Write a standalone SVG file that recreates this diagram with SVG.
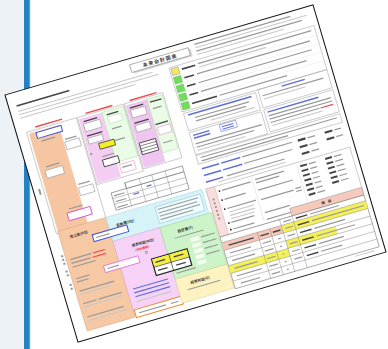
<svg xmlns="http://www.w3.org/2000/svg" width="388" height="349" viewBox="0 0 388 349">
<style>
.l{fill:#9a9a9a}.lt{fill:#c8c8c8}.lb{fill:#5e6edc}.lr{fill:#e65050}.dk{fill:#454545}
.bx{fill:#fff;stroke:#999;stroke-width:.6}
.fr{fill:none;stroke:#b0b0b0;stroke-width:.6}
.g{fill:none;stroke:#777;stroke-width:.4}
.t{font-family:"Noto Sans CJK JP","Noto Sans",sans-serif;fill:#333;font-weight:bold}
.ig{fill:#72dc5e;stroke:#55b844;stroke-width:.4}
</style>
<rect width="388" height="349" fill="#fff"/>
<rect width="24" height="349" fill="#edf2f7"/>
<rect x="24" width="6" height="349" fill="#2481c4"/>
<rect x="29" width="1.2" height="349" fill="#56a6dd"/>
<g id="paper" transform="matrix(0.9595,-0.2804,0.2829,0.9574,5,95)">
<rect width="321" height="258" fill="#fff" stroke="#111" stroke-width="1"/>

<g id="header">
<rect x="130" y="7.5" width="61" height="8" fill="#d4d4d4"/>
<rect x="128" y="6" width="61" height="8" fill="#fff" stroke="#888" stroke-width=".6"/>
<text class="t" x="158.5" y="12.2" font-size="5" text-anchor="middle" letter-spacing="1">未来会計図表</text>
<rect class="l" x="196" y="4" width="100" height="1.2"/>
<rect class="lt" x="196" y="7.5" width="116" height="1.1"/>
<rect class="l" x="196" y="11" width="110" height="1.2"/>
<rect class="lt" x="196" y="14.5" width="90" height="1.1"/>
<rect class="dk" x="8" y="13" width="55" height="1.5"/>
<rect class="lt" x="8" y="19" width="140" height="1.1"/>
<rect class="lt" x="8" y="22.5" width="145" height="1.1"/>
<rect class="lt" x="8" y="26" width="120" height="1.1"/>
</g>

<g id="groupA">
<rect class="fr" x="10" y="42" width="52" height="106"/>
<rect class="lr" x="20" y="38.5" width="28" height="1.5"/>
<rect x="12" y="44" width="31" height="103" fill="#f6c6a2"/>
<rect x="19" y="45" width="26" height="6" fill="#fff" stroke="#3d4fd6" stroke-width="1"/>
<rect class="l" x="22" y="54" width="14" height="1.2"/>
<rect class="l" x="19" y="80" width="14" height="1.2"/>
<rect class="bx" x="17" y="84" width="18" height="8"/>
<rect class="l" x="45" y="59" width="12" height="1.2"/>
<rect class="bx" x="44" y="62" width="15" height="8"/>
<rect class="l" x="45" y="106" width="12" height="1.2"/>
<rect class="bx" x="44" y="110" width="15" height="8"/>
<rect class="l" x="5" y="100" width="2" height="6"/>
<rect class="l" x="29" y="127" width="14" height="1.2"/>
<rect x="26" y="131" width="24" height="8" fill="#fff" stroke="#d857c8" stroke-width=".9"/>
</g>

<g id="groupB">
<rect class="fr" x="63" y="42" width="48" height="70"/>
<rect class="lr" x="72" y="39.5" width="28" height="1.5"/>
<rect x="64" y="44" width="24" height="67" fill="#f5cdf3"/>
<rect x="88" y="44" width="22" height="52" fill="#eafbe6" stroke="#a8e0a0" stroke-width=".5"/>
<rect class="dk" x="68" y="47" width="14" height="1.3"/>
<rect class="bx" x="67" y="50" width="17" height="8"/>
<rect class="dk" x="67" y="62" width="16" height="1.3"/>
<rect class="bx" x="67" y="65" width="15" height="6"/>
<rect x="76" y="73" width="16" height="6" fill="#f2f028" stroke="#444" stroke-width=".8"/>
<rect x="75" y="90" width="16" height="7" fill="#fff" stroke="#333" stroke-width=".8"/>
<rect class="l" x="76" y="86" width="12" height="1.2"/>
<rect class="dk" x="92" y="47" width="12" height="1.3"/>
<rect x="92" y="50" width="14" height="7" fill="#fff" stroke="#aedcaa" stroke-width=".5"/>
<rect class="l" x="93" y="62" width="10" height="1.3"/>
<rect class="l" x="93" y="74" width="10" height="1.3"/>
<rect class="l" x="65" y="80" width="2" height="2"/>
<rect x="90" y="99" width="15" height="9" fill="#fff" stroke="#e89ac8" stroke-width=".6"/>
<rect class="l" x="92" y="102" width="10" height="1.2"/>
</g>

<g id="groupC">
<rect class="fr" x="112" y="42" width="40" height="68"/>
<rect class="lr" x="118" y="39.5" width="28" height="1.5"/>
<rect x="113" y="44" width="22" height="65" fill="#efc6ef"/>
<rect x="135" y="44" width="16" height="56" fill="#eafbe6" stroke="#a8e0a0" stroke-width=".5"/>
<rect class="dk" x="116" y="47" width="14" height="1.3"/>
<rect class="bx" x="116" y="50" width="15" height="8"/>
<rect class="dk" x="116" y="63" width="15" height="1.3"/>
<rect class="bx" x="116" y="66" width="15" height="7"/>
<rect x="115" y="84" width="17" height="12" fill="#fff" stroke="#222" stroke-width=".7"/>
<path d="M115 87H132M115 90H132M115 93H132" stroke="#222" stroke-width=".5"/>
<rect class="dk" x="137" y="47" width="12" height="1.3"/>
<rect class="l" x="138" y="54" width="9" height="1.2"/>
<rect class="dk" x="136" y="70" width="13" height="1.3"/>
<rect x="137" y="74" width="13" height="8" fill="#fff" stroke="#e89ac8" stroke-width=".6"/>
<rect class="l" x="138" y="90" width="10" height="1.2"/>
</g>

<g id="smalltable">
<rect x="74" y="124" width="76" height="18" fill="#fff" stroke="#555" stroke-width=".5"/>
<rect x="90" y="118" width="60" height="6" fill="#fff" stroke="#555" stroke-width=".5"/>
<path class="g" d="M90 118V142M105 118V142M118 118V142M132 118V142M74 130H150M74 136H150"/>
<rect class="l" x="76" y="127" width="11" height="1.2"/>
<rect class="l" x="76" y="133" width="11" height="1.2"/>
<rect class="l" x="76" y="139" width="11" height="1.2"/>
<rect class="lb" x="95" y="131" width="6" height="1.2"/>
<rect class="lb" x="110" y="127" width="5" height="1.2"/>
</g>

<g id="sales">
<rect x="12" y="146" width="50" height="104" fill="#f6c8a4" stroke="#d9a27c" stroke-width=".5"/>
<text class="t" x="22" y="156" font-size="3.6">売上高(PQ)</text>
<rect class="l" x="8" y="170" width="2.2" height="2"/><rect class="l" x="8" y="174" width="2.2" height="2"/><rect class="l" x="8" y="178" width="2.2" height="2"/><rect class="l" x="8" y="186" width="2.2" height="2"/><rect class="l" x="8" y="190" width="2.2" height="2"/><rect class="l" x="8" y="200" width="2.2" height="2"/><rect class="l" x="8" y="204" width="2.2" height="2"/>
<rect class="l" x="16" y="176" width="22" height="1.2"/><rect class="lr" x="40" y="176" width="12" height="1.2"/>
<rect class="l" x="16" y="180" width="20" height="1.2"/><rect class="lr" x="38" y="180" width="14" height="1.2"/>
<rect class="l" x="16" y="184" width="24" height="1.2"/>
<rect class="l" x="16" y="196" width="14" height="1.2"/><rect class="l" x="16" y="199.5" width="12" height="1.2"/>
<rect class="l" x="16" y="209" width="36" height="1.2"/><rect class="lt" x="16" y="212.5" width="30" height="1.1"/>
<rect class="l" x="16" y="222" width="14" height="1.2"/><rect class="l" x="32" y="222" width="24" height="1.2"/>
<rect class="lt" x="16" y="225.5" width="40" height="1.1"/>
<rect class="l" x="16" y="236" width="38" height="1.2"/><rect class="lt" x="16" y="240" width="40" height="1.1"/>
</g>

<g id="variable">
<rect x="62" y="146" width="100" height="25" fill="#d6f3f7" stroke="#a6d6de" stroke-width=".5"/>
<text class="t" x="70" y="158" font-size="3.6">変動費(VQ)</text>
<rect x="112" y="150" width="47" height="17" fill="#ecfcff" stroke="#8ab" stroke-width=".4"/>
<rect class="l" x="114" y="152.5" width="42" height="1.1"/><rect class="l" x="114" y="156" width="40" height="1.1"/><rect class="l" x="114" y="159.5" width="42" height="1.1"/><rect class="l" x="114" y="163" width="34" height="1.1"/>
</g>

<g id="margin">
<rect x="62" y="171" width="49" height="72" fill="#f6d3f6" stroke="#d9a6d9" stroke-width=".5"/>
<text class="t" x="79" y="182" font-size="3.6">限界利益(MQ)</text>
<text class="t" x="81" y="187" font-size="3" style="fill:#e33">(付加価値)</text>
<circle cx="91" cy="191" r="1.2" fill="none" stroke="#444" stroke-width=".4"/>
<rect class="lb" x="68" y="222" width="36" height="1.2"/><rect class="lb" x="68" y="226" width="36" height="1.2"/><rect class="lb" x="68" y="230" width="36" height="1.2"/>
<rect class="lt" x="68" y="235" width="36" height="1.1"/>
<rect x="63" y="243" width="49" height="8" fill="#fff" stroke="#f08a30" stroke-width="1"/>
<rect class="l" x="67" y="246.5" width="28" height="1.2"/><rect class="l" x="100" y="246.5" width="8" height="1.2"/>
</g>

<g id="fixed">
<rect x="111" y="171" width="54" height="54" fill="#cdf3c8" stroke="#9fd49a" stroke-width=".5"/>
<text class="t" x="127" y="181" font-size="3.6">固定費(F)</text>
<rect class="l" x="122" y="185" width="30" height="1"/>
<rect x="137" y="190" width="9" height="4" fill="#f4fff2"/><rect x="137" y="196" width="9" height="4" fill="#f4fff2"/><rect x="137" y="202" width="9" height="4" fill="#f4fff2"/><rect x="137" y="208" width="9" height="4" fill="#f4fff2"/><rect x="137" y="214" width="9" height="4" fill="#f4fff2"/>
<rect class="l" x="148" y="191" width="14" height="1.1"/><rect class="l" x="148" y="197" width="14" height="1.1"/><rect class="l" x="148" y="203" width="14" height="1.1"/><rect class="l" x="148" y="209" width="14" height="1.1"/>
<rect class="l" x="114" y="219" width="20" height="1.1"/>
</g>

<g id="profit">
<rect x="111" y="225" width="54" height="25" fill="#fdf3c0" stroke="#e0d090" stroke-width=".5"/>
<text class="t" x="125" y="234" font-size="3.6">経常利益(G)</text>
<rect class="l" x="120" y="238" width="34" height="1.1"/>
</g>

<g id="boxes">
<rect x="44" y="159" width="36" height="7" fill="#fff" stroke="#3c4ed4" stroke-width="1"/>
<rect class="l" x="47" y="162" width="14" height="1.2"/>
<rect x="46" y="192" width="36" height="7" fill="#fff" stroke="#e070d0" stroke-width=".8"/>
<rect class="l" x="49" y="195" width="12" height="1.2"/>
<rect x="94" y="199" width="37" height="17" fill="#fff" stroke="#222" stroke-width="1.2"/>
<rect x="94.6" y="199.6" width="35.8" height="7.4" fill="#f3ef3c"/>
<path d="M94 207.5H131M112 199V216" stroke="#222" stroke-width=".6"/>
<rect class="dk" x="97" y="202.5" width="10" height="1.3"/><rect class="dk" x="116" y="202.5" width="10" height="1.3"/>
<rect class="dk" x="97" y="211" width="10" height="1.3"/><rect class="dk" x="116" y="211" width="10" height="1.3"/>
</g>

<g id="rightTop">
<rect class="fr" x="165" y="20" width="151" height="46"/>
<rect x="166.5" y="21.5" width="7.5" height="7" fill="#f2e66a" stroke="#998" stroke-width=".5"/>
<rect class="ig" x="166.5" y="30.5" width="7.5" height="7"/>
<rect class="ig" x="166.5" y="39.5" width="7.5" height="7"/>
<rect class="ig" x="166.5" y="48.5" width="7.5" height="7"/>
<rect class="ig" x="166.5" y="57.5" width="7.5" height="7"/>
<rect class="dk" x="177" y="24" width="14" height="1.6"/><rect class="l" x="194" y="23.5" width="118" height="1.2"/><rect class="lt" x="194" y="27" width="70" height="1.1"/>
<rect class="dk" x="177" y="33" width="10" height="1.6"/><rect class="l" x="190" y="33" width="118" height="1.2"/>
<rect class="dk" x="177" y="42" width="9" height="1.6"/><rect class="l" x="189" y="42" width="118" height="1.2"/>
<rect class="dk" x="177" y="51" width="9" height="1.6"/><rect class="l" x="189" y="51" width="110" height="1.2"/>
<rect class="dk" x="177" y="60" width="26" height="1.6"/><rect class="l" x="206" y="60" width="70" height="1.2"/>
<path d="M165 29.5H316M165 38.5H316M165 47.5H316M165 56.5H316" stroke="#e6e6e6" stroke-width=".4"/>
</g>

<g id="rightMid">
<rect class="fr" x="166" y="68" width="75" height="18"/>
<rect class="lb" x="170" y="70" width="66" height="1.4"/>
<rect class="l" x="176" y="74.5" width="56" height="1.2"/><rect class="l" x="176" y="78" width="52" height="1.2"/><rect class="lt" x="190" y="81.5" width="46" height="1.1"/>
<rect class="fr" x="244" y="66" width="72" height="19"/>
<rect class="lb" x="268" y="68.5" width="24" height="1.4"/>
<rect class="l" x="247" y="72.5" width="63" height="1.2"/><rect class="lt" x="247" y="76" width="43" height="1.1"/>
<rect class="fr" x="166" y="88" width="75" height="23"/>
<rect class="lb" x="169" y="91" width="17" height="1.4"/><rect class="lb" x="169" y="94" width="17" height="1.4"/>
<rect x="197" y="89" width="17" height="7" fill="none" stroke="#5464d8" stroke-width=".5"/>
<rect class="lb" x="199" y="91" width="12" height="1"/><rect class="lb" x="199" y="93.5" width="12" height="1"/>
<rect class="l" x="169" y="100" width="69" height="1.2"/><rect class="l" x="169" y="103.5" width="60" height="1.2"/><rect class="lt" x="169" y="107" width="50" height="1.1"/>
<rect class="fr" x="244" y="87" width="72" height="23"/>
<rect class="lb" x="247" y="89.5" width="53" height="1.4"/>
<rect class="l" x="247" y="93.5" width="65" height="1.2"/><rect class="l" x="247" y="97" width="65" height="1.2"/>
<rect class="l" x="247" y="100.5" width="51" height="1.2"/><rect class="lr" x="299" y="100.5" width="13" height="1.2"/>
<rect class="lt" x="247" y="104" width="53" height="1.1"/>
<rect class="fr" x="166" y="112" width="150" height="9"/>
<rect class="l" x="170" y="114.5" width="142" height="1.2"/><rect class="l" x="170" y="118" width="90" height="1.2"/>
</g>

<g id="rightRows">
<rect class="lb" x="168" y="125.5" width="18" height="1.5"/><rect class="lb" x="188" y="125.5" width="20" height="1.5"/><rect class="l" x="210" y="125.5" width="52" height="1.2"/>
<rect class="dk" x="268" y="125" width="8" height="2.2"/><rect class="l" x="278" y="125.5" width="8" height="1.3"/><rect class="dk" x="296" y="125" width="8" height="2.2"/><rect class="l" x="306" y="125.5" width="7" height="1.3"/>
<rect class="lb" x="168" y="132.5" width="18" height="1.5"/><rect class="lb" x="188" y="132.5" width="20" height="1.5"/><rect class="l" x="210" y="132.5" width="50" height="1.2"/>
<rect class="dk" x="268" y="132" width="8" height="2.2"/><rect class="l" x="278" y="132.5" width="8" height="1.3"/><rect class="dk" x="296" y="132" width="8" height="2.2"/><rect class="l" x="306" y="132.5" width="7" height="1.3"/>
<rect class="lb" x="168" y="139.5" width="18" height="1.5"/><rect class="l" x="190" y="139.5" width="60" height="1.2"/>
<rect class="dk" x="268" y="139" width="8" height="2.2"/><rect class="l" x="278" y="139.5" width="8" height="1.3"/>
<rect class="lt" x="180" y="143" width="70" height="1.1"/>
</g>

<g id="rightBullets">
<rect class="fr" x="166" y="147" width="150" height="50"/>
<rect x="166" y="147" width="9" height="50" fill="#f9dede" stroke="#d8aaaa" stroke-width=".5"/>
<rect class="l" x="169.5" y="158" width="2" height="2"/><rect class="l" x="169.5" y="162" width="2" height="2"/><rect class="l" x="169.5" y="166" width="2" height="2"/><rect class="l" x="169.5" y="170" width="2" height="2"/><rect class="l" x="169.5" y="174" width="2" height="2"/><rect class="l" x="169.5" y="178" width="2" height="2"/>
<g fill="#222"><circle cx="178.5" cy="152.6" r=".9"/><circle cx="178.5" cy="162" r=".9"/><circle cx="178.5" cy="171.5" r=".9"/><circle cx="178.5" cy="186" r=".9"/><circle cx="178.5" cy="193" r=".9"/></g>
<rect class="l" x="181" y="152" width="30" height="1.2"/><rect class="l" x="181" y="161.4" width="22" height="1.2"/><rect class="l" x="181" y="171" width="30" height="1.2"/>
<rect class="lt" x="182" y="175" width="26" height="1.1"/><rect class="lt" x="182" y="178.5" width="26" height="1.1"/><rect class="lt" x="182" y="182" width="24" height="1.1"/>
<rect class="l" x="181" y="185.4" width="24" height="1.2"/><rect class="l" x="181" y="192.4" width="22" height="1.2"/>
<path d="M213 150V194" stroke="#ccc" stroke-width=".4"/>
<rect class="l" x="216" y="151" width="30" height="1.2"/><rect class="l" x="216" y="154.5" width="24" height="1.2"/><rect class="l" x="216" y="162" width="36" height="1.2"/>
<rect class="l" x="216" y="172" width="34" height="1.2"/><rect class="l" x="252" y="171" width="6" height="1.2"/><rect class="l" x="252" y="174" width="6" height="1.2"/>
<rect class="l" x="216" y="185.5" width="26" height="1.2"/><rect class="l" x="216" y="192.5" width="26" height="1.2"/><rect class="lr" x="244" y="192.5" width="12" height="1.2"/>
<path d="M260 150V188" stroke="#ccc" stroke-width=".4"/>
<g class="dk"><rect x="263" y="150.5" width="7" height="2"/><rect x="263" y="155.5" width="7" height="2"/><rect x="263" y="160.5" width="7" height="2"/><rect x="263" y="165.5" width="7" height="2"/><rect x="263" y="170.5" width="7" height="2"/><rect x="263" y="175.5" width="7" height="2"/><rect x="263" y="180.5" width="7" height="2"/>
<rect x="289" y="150.5" width="7" height="2"/><rect x="289" y="155.5" width="7" height="2"/><rect x="289" y="160.5" width="7" height="2"/><rect x="289" y="165.5" width="7" height="2"/><rect x="289" y="170.5" width="7" height="2"/><rect x="289" y="175.5" width="7" height="2"/></g>
<g class="l"><rect x="272" y="151" width="7" height="1.2"/><rect x="272" y="156" width="7" height="1.2"/><rect x="272" y="161" width="7" height="1.2"/><rect x="272" y="166" width="7" height="1.2"/><rect x="272" y="171" width="7" height="1.2"/><rect x="272" y="176" width="7" height="1.2"/><rect x="272" y="181" width="8" height="1.2"/>
<rect x="298" y="151" width="8" height="1.2"/><rect x="298" y="156" width="8" height="1.2"/><rect x="298" y="161" width="8" height="1.2"/><rect x="298" y="166" width="8" height="1.2"/><rect x="298" y="171" width="8" height="1.2"/><rect x="298" y="176" width="8" height="1.2"/></g>
</g>

<g id="rightTable">
<rect x="241" y="189" width="75" height="8" fill="#f5c9bb" stroke="#888" stroke-width=".4"/>
<text class="t" x="278" y="194.3" font-size="3.4" text-anchor="middle">損　益</text>
<rect x="166" y="197" width="150" height="54" fill="#fff" stroke="#666" stroke-width=".5"/>
<rect x="166" y="203" width="62" height="8" fill="#f3c8bb"/>
<rect x="228" y="203" width="88" height="8" fill="#f4f05a"/>
<rect x="166" y="227" width="62" height="8" fill="#f4f05a"/>
<rect x="228" y="219" width="52" height="8" fill="#f4f05a"/>
<path class="g" d="M228 203H316M166 203H228M166 211H316M166 219H316M166 227H316M166 235H316M166 243H316M203 203V251M216 203V251M228 197V251M241 197V251"/>
<g class="dk"><rect x="172" y="206.5" width="26" height="1.4"/><rect x="205" y="206.5" width="9" height="1.4"/><rect x="218" y="206.5" width="8" height="1.4"/></g>
<g class="l"><rect x="171" y="214.5" width="22" height="1.2"/><rect x="171" y="222.5" width="24" height="1.2"/><rect x="171" y="230.5" width="24" height="1.2"/><rect x="171" y="238.5" width="26" height="1.2"/><rect x="173" y="246.5" width="20" height="1.2"/>
<rect x="205" y="214.5" width="9" height="1.2"/><rect x="205" y="222.5" width="9" height="1.2"/><rect x="205" y="230.5" width="9" height="1.2"/><rect x="205" y="238.5" width="9" height="1.2"/><rect x="205" y="246.5" width="9" height="1.2"/>
<rect x="221" y="214.5" width="3" height="1.2"/><rect x="221" y="222.5" width="2" height="1.2"/><rect x="221" y="230.5" width="2" height="1.2"/><rect x="221" y="238.5" width="2" height="1.2"/><rect x="221" y="246.5" width="2" height="1.2"/>
<rect x="231" y="199.5" width="8" height="1.2"/><rect x="231" y="206.5" width="8" height="1.2"/><rect x="231" y="214.5" width="8" height="1.2"/><rect x="231" y="222.5" width="8" height="1.2"/><rect x="231" y="230.5" width="8" height="1.2"/><rect x="231" y="238.5" width="8" height="1.2"/></g>
<g class="dk"><rect x="244" y="199.5" width="12" height="1.4"/><rect x="244" y="206.5" width="12" height="1.4"/><rect x="244" y="214.5" width="12" height="1.4"/><rect x="244" y="222.5" width="12" height="1.4"/><rect x="244" y="230.5" width="12" height="1.4"/><rect x="244" y="238.5" width="12" height="1.4"/></g>
<g class="l"><rect x="259" y="199.5" width="30" height="1.2"/><rect x="259" y="206.5" width="54" height="1.2"/><rect x="259" y="214.5" width="32" height="1.2"/><rect x="259" y="222.5" width="40" height="1.2"/><rect x="259" y="230.5" width="26" height="1.2"/><rect x="259" y="238.5" width="22" height="1.2"/></g>
<rect class="lt" x="290" y="253" width="20" height="1"/>
</g>
</g>
</svg>
